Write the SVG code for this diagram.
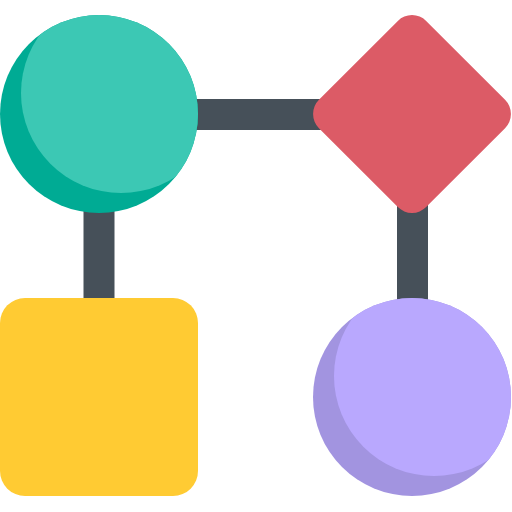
<svg xmlns="http://www.w3.org/2000/svg" width="512" height="512" viewBox="0 0 512 512">
<style>
.bar{fill:#465059}
</style>
<defs>
<clipPath id="cg"><circle cx="99" cy="114" r="99"/></clipPath>
<clipPath id="cp"><circle cx="412" cy="397" r="99"/></clipPath>
</defs>
<g id="connectors">
<rect class="bar" x="150" y="99" width="230" height="31"/>
<rect class="bar" x="83.5" y="150" width="31" height="200"/>
<rect class="bar" x="397" y="150" width="31" height="200"/>
</g>
<g id="circle-green">
<circle cx="99" cy="114" r="99" fill="#00AB94"/>
<circle cx="121" cy="93" r="100" fill="#3CC8B4" clip-path="url(#cg)"/>
</g>
<g id="diamond">
<rect x="336.2" y="38.2" width="151.6" height="151.6" rx="20" fill="#DC5B66" transform="rotate(45 412 114)"/>
</g>
<g id="square">
<rect x="0" y="298" width="198" height="198" rx="25" fill="#FFCB33"/>
</g>
<g id="circle-purple">
<circle cx="412" cy="397" r="99" fill="#A294E0"/>
<circle cx="434" cy="376" r="100" fill="#B9A8FE" clip-path="url(#cp)"/>
</g>
</svg>
